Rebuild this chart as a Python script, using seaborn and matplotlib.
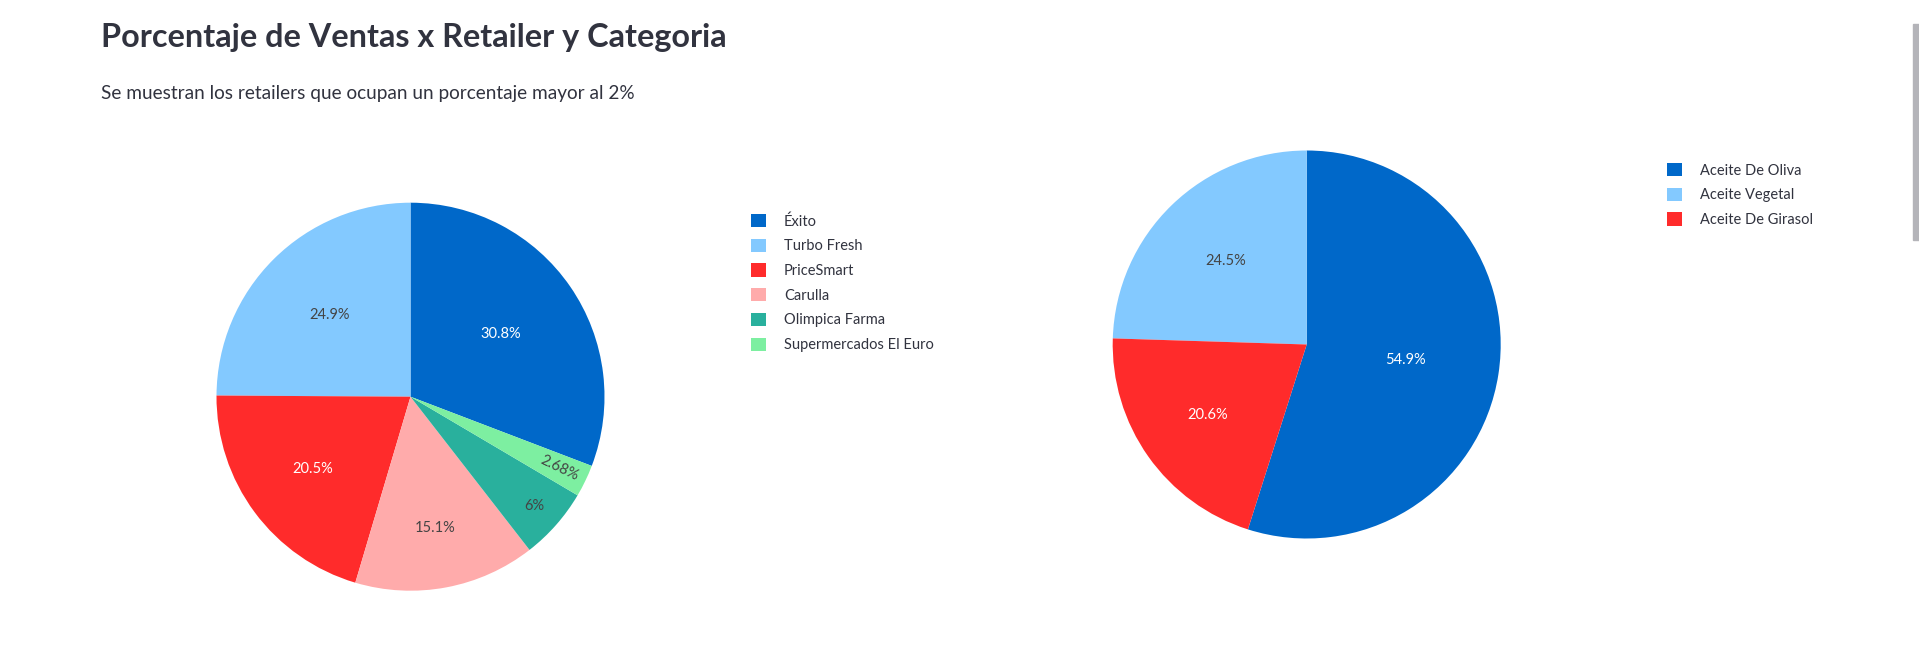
import numpy as np
import seaborn as sns
import matplotlib.pyplot as plt
from matplotlib.patches import Patch, Rectangle

# ---- data ----
retailers = ["Éxito", "Turbo Fresh", "PriceSmart", "Carulla", "Olimpica Farma", "Supermercados El Euro"]
retailer_pct = [30.8, 24.9, 20.5, 15.1, 6.0, 2.68]
retailer_colors = ["#0068C9", "#83C9FF", "#FF2B2B", "#FFABAB", "#29B09D", "#7DEFA1"]

categorias = ["Aceite De Oliva", "Aceite Vegetal", "Aceite De Girasol"]
categoria_pct = [54.9, 24.5, 20.6]
categoria_colors = ["#0068C9", "#83C9FF", "#FF2B2B"]

titulo = "Porcentaje de Ventas x Retailer y Categoria"
subtitulo = "Se muestran los retailers que ocupan un porcentaje mayor al 2%"

W, H = 1919, 669
TEXT = "#31333F"
DARK_FILLS = {"#0068C9", "#FF2B2B"}

sns.set_theme(style="white")
plt.rcParams["font.family"] = ["Lato", "DejaVu Sans"]

fig = plt.figure(figsize=(W / 100, H / 100), dpi=100)


def px_axes(cx, cy, r, pad=1.02):
    s = r * pad
    return fig.add_axes([(cx - s) / W, 1 - (cy + s) / H, 2 * s / W, 2 * s / H])


def draw_pie(ax, values, colors):
    total = sum(values)
    # first slice ends at 12 o'clock, slices go counterclockwise (plotly default look)
    start = 90 - 360 * values[0] / total
    wedges, _, autotexts = ax.pie(
        values, colors=colors, startangle=start, counterclock=True,
        autopct=lambda p: f"{p:.3g}%",
        textprops=dict(fontsize=10.5), wedgeprops=dict(linewidth=0),
    )
    for w, t, c, v in zip(wedges, autotexts, colors, values):
        t.set_color("white" if c in DARK_FILLS else "#444444")
        share = v / total
        # narrower slices push their label further out, like plotly does
        dist = min(0.45 + 0.036 / share, 0.85)
        mid = np.radians((w.theta1 + w.theta2) / 2)
        t.set_position((dist * np.cos(mid), dist * np.sin(mid)))
        if share < 0.05:
            t.set_rotation(np.degrees(mid))
            t.set_rotation_mode("anchor")
    ax.set_xlim(-1.02, 1.02)
    ax.set_ylim(-1.02, 1.02)
    ax.set_aspect("equal")
    ax.axis("off")


def draw_legend(labels, colors, x, y):
    handles = [Patch(facecolor=c, edgecolor="none") for c in colors]
    fig.legend(
        handles, labels, loc="upper left", bbox_to_anchor=(x / W, 1 - y / H),
        frameon=False, fontsize=10.5, labelcolor=TEXT,
        handlelength=1.0, handleheight=1.0, handletextpad=1.25,
        labelspacing=0.7, borderpad=0, borderaxespad=0,
    )


ax1 = px_axes(410.5, 396.7, 194)
draw_pie(ax1, retailer_pct, retailer_colors)
draw_legend(retailers, retailer_colors, 751, 214)

ax2 = px_axes(1306.7, 344.5, 194)
draw_pie(ax2, categoria_pct, categoria_colors)
draw_legend(categorias, categoria_colors, 1667, 163)

fig.text(101 / W, 1 - 47 / H, titulo, fontsize=23.3, fontweight="bold",
         color=TEXT, ha="left", va="baseline")
fig.text(101 / W, 1 - 99 / H, subtitulo, fontsize=13.7, color=TEXT,
         ha="left", va="baseline")

# page scrollbar at the right edge
fig.patches.append(Rectangle((1913 / W, 1 - 240 / H), 6 / W, 216 / H,
                             transform=fig.transFigure, color="#B4B4B9"))

fig.savefig("out.png", dpi=100, facecolor="white")
